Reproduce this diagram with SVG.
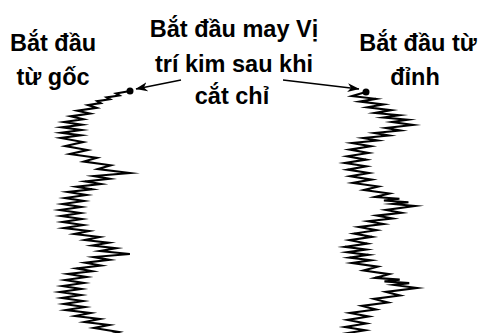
<svg xmlns="http://www.w3.org/2000/svg" width="481" height="333" viewBox="0 0 481 333">
<style>
.lbl{font-family:"Liberation Sans",Arial,sans-serif;font-weight:bold;font-size:23.5px;fill:#000;text-anchor:middle}
.zig{fill:none;stroke:#000;stroke-width:2.1;stroke-linejoin:miter;stroke-miterlimit:10}
.dot{fill:#000}
.arr{fill:none;stroke:#000;stroke-width:1.4}
</style>
<defs>
<marker id="ah" viewBox="0 0 12 10" refX="11.5" refY="5" markerWidth="12" markerHeight="10" markerUnits="userSpaceOnUse" orient="auto">
<path d="M0,0.5 L12,5 L0,9.5 L3.5,5 Z" fill="#000"/>
</marker>
</defs>
<rect width="481" height="333" fill="#fff"/>
<g id="label-root">
<text class="lbl" x="53" y="51">Bắt đầu</text>
<text class="lbl" x="53" y="85">từ gốc</text>
</g>
<g id="label-center">
<text class="lbl" x="234" y="37">Bắt đầu may Vị</text>
<text class="lbl" x="234" y="72">trí kim sau khi</text>
<text class="lbl" x="232" y="104">cắt chỉ</text>
</g>
<g id="label-top">
<text class="lbl" x="418" y="51">Bắt đầu từ</text>
<text class="lbl" x="415" y="85">đỉnh</text>
</g>
<g id="stitch-left">
<path class="zig" d="M130,91 L116,93.5
l3.33,1.92 l-12.67,1.92 l3.33,1.92 l-12.67,1.92 l3.33,1.92 l-12.67,1.92
l8.67,2.83 l-19.33,2.83 l12.67,2.83 l-19.33,2.83 l12.67,2.83 l-19.33,2.83
l17.8,2.67 l-20.2,2.67 l19.8,2.67 l-20.2,2.67 l19.8,2.67 l-20.2,2.67
l22.25,4 l-17.75,4 l22.25,4 l-17.75,4
l27,3.75 l-13,3.75 l27,3.75 l-13,3.75
l32,4 l-36,3
l15.67,2.67 l-24.33,2.67 l15.67,2.67 l-24.33,2.67 l15.67,2.67 l-24.33,2.67
l18.67,3 l-21.33,3 l18.67,3 l-21.33,3 l18.67,3 l-21.33,3
l20.67,3 l-19.33,3 l20.67,3 l-19.33,3 l20.67,3 l-19.33,3
l25.25,3 l-14.75,3 l25.25,3 l-14.75,3
l23.75,2.75 l-16.25,2.75 l23.75,2.75 l-16.25,2.75
l30,3 l-36,3
l15.67,2.83 l-24.33,2.83 l15.67,2.83 l-24.33,2.83 l15.67,2.83 l-24.33,2.83
l18.67,3 l-21.33,3 l18.67,3 l-21.33,3 l18.67,3 l-21.33,3
l21,3 l-19,3 l21,3 l-19,3 l21,3 l-19,3
l24.67,3 l-15.33,3 l24.67,3 l-15.33,3 l24.67,3 l-15.33,3
l25,4 l-15,4"/>
<circle class="dot" cx="130" cy="91" r="3.5"/>
</g>
<g id="stitch-right">
<path class="zig" d="M366,92 L352,96
l23.83,2.83 l-16.17,2.83 l23.83,2.83 l-16.17,2.83 l23.83,2.83 l-16.17,2.83
l24.25,2.25 l-15.75,2.25 l24.25,2.25 l-15.75,2.25
l21,3 l-27,3
l14.33,2.5 l-25.67,2.5 l14.33,2.5 l-25.67,2.5 l14.33,2.5 l-25.67,2.5
l18.83,3.33 l-21.17,3.33 l18.83,3.33 l-21.17,3.33 l18.83,3.33 l-21.17,3.33
l21.33,3.33 l-18.67,3.33 l21.33,3.33 l-18.67,3.33 l21.33,3.33 l-18.67,3.33
l25.5,3.5 l-14.5,3.5 l25.5,3.5 l-14.5,3.5
l24.5,1.75 l-15.5,1.75 l24.5,1.75 l-15.5,1.75
l22,2 l-29,4
l15.5,2.83 l-24.5,2.83 l15.5,2.83 l-24.5,2.83 l15.5,2.83 l-24.5,2.83
l17.67,3.33 l-22.33,3.33 l17.67,3.33 l-22.33,3.33 l17.67,3.33 l-22.33,3.33
l21.17,2.67 l-18.83,2.67 l21.17,2.67 l-18.83,2.67 l21.17,2.67 l-18.83,2.67
l25.75,3.75 l-14.25,3.75 l25.75,3.75 l-14.25,3.75
l24.75,1.75 l-15.25,1.75 l24.75,1.75 l-15.25,1.75
l23,3 l-31,4
l14,3.5 l-26,3.5 l14,3.5 l-26,3.5 l14,3.5 l-26,3.5
l18.75,3.5 l-21.25,3.5 l18.75,3.5 l-21.25,3.5
l20.25,3.25 l-19.75,3.25 l20.25,3.25 l-19.75,3.25"/>
<circle class="dot" cx="366" cy="92" r="3.5"/>
</g>
<g id="connectors">
<line class="arr" x1="181" y1="80" x2="136" y2="89" marker-end="url(#ah)"/>
<line class="arr" x1="283" y1="80" x2="359" y2="89" marker-end="url(#ah)"/>
</g>
</svg>
